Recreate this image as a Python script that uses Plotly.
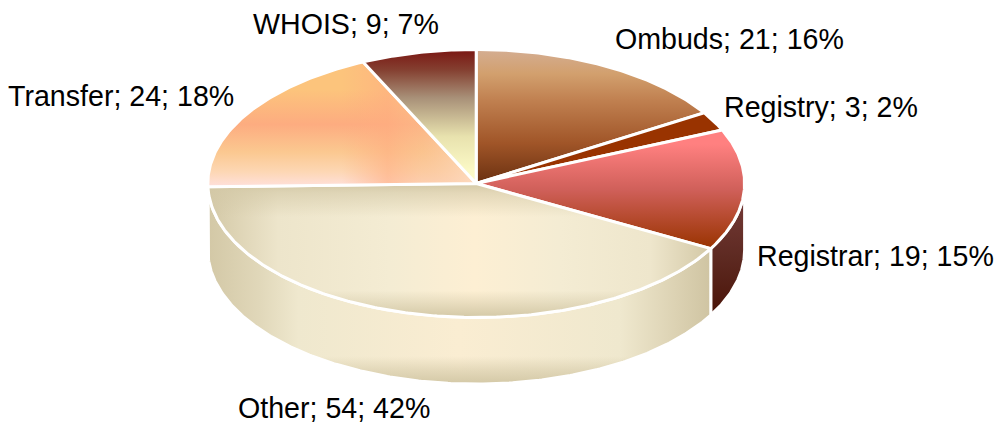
import numpy as np
import plotly.graph_objects as go

categories = ["Ombuds", "Registry", "Registrar", "Other", "Transfer", "WHOIS"]
values = [21, 3, 19, 54, 24, 9]

W, H = 997, 423
CX, CY, RX, RY, DEPTH = 476.2, 183.5, 268.4, 134.0, 66.5
d = DEPTH / RY
total = sum(values)
edges = np.cumsum([0] + values) / total * 2 * np.pi


def arc(a0, a1, dy=0.0):
    n = max(2, int(abs(a1 - a0) / 0.01))
    t = np.linspace(a0, a1, n)
    return np.sin(t), np.cos(t) - dy


def vert(stops):
    return dict(type="vertical", colorscale=stops)


def horz(stops):
    return dict(type="horizontal", colorscale=stops)


TAN = "rgb(211,200,166)"
TAN0 = "rgba(211,200,166,0)"

top_style = {
    "Ombuds": [vert([[0, "#6A3010"], [0.3, "#A05528"], [0.62, "#C08050"], [0.82, "#D2A06E"], [1, "#D4AD92"]])],
    "Registry": ["#993300"],
    "Registrar": [vert([[0, "#993300"], [0.5, "#D0605A"], [0.88, "#FF8080"], [1, "#FF8080"]])],
    "Other": [
        horz([[0, TAN], [0.14, "#EDE5CB"], [0.36, "#F4ECD3"], [0.53, "#FDEFD3"], [0.7, "#F4ECD3"], [0.88, "#EEE6CC"], [1, TAN]]),
        vert([[0, TAN], [0.2, TAN0], [0.75, TAN0], [0.93, "rgba(211,200,166,0.6)"], [1, TAN]]),
    ],
    "Transfer": [
        vert([[0, "#FFE0DC"], [0.12, "#FDD7B4"], [0.28, "#FBC890"], [0.5, "#FDAC80"], [0.78, "#FCC47C"], [1, "#FCC47C"]]),
        horz([[0, "rgba(255,173,128,0)"], [0.5, "rgba(255,173,128,0)"], [0.67, "rgba(255,173,128,0.6)"],
              [0.8, "rgba(250,190,140,0.5)"], [1, "rgba(253,218,190,0.9)"]]),
    ],
    "WHOIS": [vert([[0, "#FDFBCA"], [0.1, "#FBF9C6"], [0.35, "#E8E2AE"], [0.64, "#A89078"], [0.85, "#843F30"], [1, "#7A1612"]])],
}
side_style = {
    "Registrar": [vert([[0, "#4A1408"], [0.45, "#5E2A22"], [1, "#7A3E3C"]])],
    "Other": [
        horz([[0, TAN], [0.1, "#E0D7B9"], [0.18, "#EFE8CE"], [0.5, "#FAEDD2"], [0.82, "#EFE8CE"], [0.93, "#DCD2B3"], [1, "#CFC4A2"]]),
        vert([[0, TAN], [0.07, "rgba(211,200,166,0.55)"], [0.14, TAN0], [1, TAN0]]),
    ],
    "Transfer": ["#D3C8A6"],
}

fig = go.Figure()


def add_shape(name, xs, ys, layers):
    xs = list(xs) + [xs[0]]
    ys = list(ys) + [ys[0]]
    for layer in layers:
        kw = dict(fillcolor=layer) if isinstance(layer, str) else dict(fillgradient=layer)
        fig.add_trace(go.Scatter(x=xs, y=ys, mode="lines", fill="toself", line=dict(width=0),
                                 name=name, showlegend=False, hoverinfo="skip", **kw))
    fig.add_trace(go.Scatter(x=xs, y=ys, mode="lines", line=dict(color="white", width=3),
                             name=name, showlegend=False, hoverinfo="skip"))


# visible rim: front half of the pie only
for name, a0, a1 in zip(categories, edges[:-1], edges[1:]):
    lo, hi = max(a0, np.pi / 2), min(a1, 1.5 * np.pi)
    if hi <= lo:
        continue
    x1, y1 = arc(lo, hi)
    x2, y2 = arc(hi, lo, d)
    add_shape(name, np.r_[x1, x2], np.r_[y1, y2], side_style[name])

# top face
for name, a0, a1 in zip(categories, edges[:-1], edges[1:]):
    x1, y1 = arc(a0, a1)
    add_shape(name, np.r_[0, x1], np.r_[0, y1], top_style[name])

label_pos = {
    "WHOIS": (252, 24), "Ombuds": (614, 39), "Registry": (723, 107),
    "Registrar": (756, 256), "Transfer": (7, 96), "Other": (237, 408),
}
for name, v in zip(categories, values):
    px, py = label_pos[name]
    fig.add_annotation(x=px / W, y=1 - py / H, xref="paper", yref="paper", xanchor="left", yanchor="middle",
                       text=f"{name}; {v}; {round(v / total * 100)}%", showarrow=False,
                       font=dict(family="Liberation Sans", size=28.6, color="black"),
                       borderpad=0)

fig.update_layout(
    width=W, height=H, margin=dict(l=0, r=0, t=0, b=0), showlegend=False,
    paper_bgcolor="white", plot_bgcolor="white",
    xaxis=dict(visible=False, range=[-CX / RX, (W - CX) / RX]),
    yaxis=dict(visible=False, range=[(CY - H) / RY, CY / RY]),
)
fig.write_html("out.html", config=dict(displayModeBar=False),
               post_script="document.body.style.margin='0';document.body.style.overflow='hidden';")
